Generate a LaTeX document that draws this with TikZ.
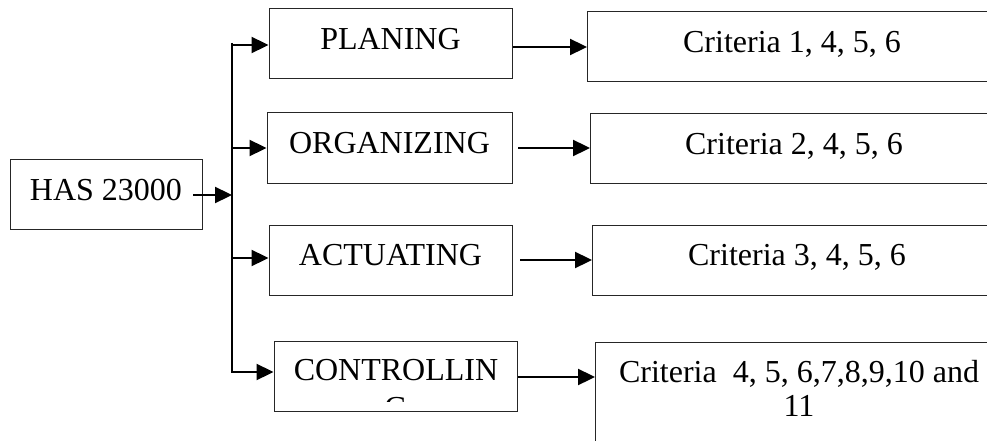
\documentclass[tikz,border=0pt]{standalone}
\usepackage{fontspec}
\setmainfont{Liberation Serif}
\usetikzlibrary{arrows.meta,calc}
\begin{document}
\begin{tikzpicture}[x=1pt,y=-1pt,
  box/.style={draw=black!85,line width=1pt,inner sep=0pt,text height=22pt,text depth=11pt,minimum height=70pt,font=\fontsize{32}{38}\selectfont},
  rbox/.style={draw=black!85,line width=1pt,inner sep=0pt,minimum width=520pt,anchor=north west},
  txt/.style={inner sep=0pt,align=center,font=\fontsize{32}{34}\selectfont},
  arr/.style={line width=2.3pt,-{Triangle[length=17pt,width=16pt]}},
  bus/.style={line width=1.6pt}]
\useasboundingbox (0,0) rectangle (987,441);
% boxes
\node[box,minimum width=192pt] (has) at (106,194.5) {HAS 23000};
\node[box,minimum width=243pt] (pl) at (390.5,44) {PLANING};
\node[box,minimum width=245pt] (org) at (389.5,148) {ORGANIZING};
\node[box,minimum width=243pt] (act) at (390.5,260) {ACTUATING};
\node[draw=black!85,line width=1pt,inner sep=0pt,minimum width=243pt,minimum height=70pt] (ctl) at (395.5,376) {};
\begin{scope}
  \clip (ctl.north west) rectangle ($(ctl.east)+(0,25)$);
  \node[txt,font=\fontsize{32}{38}\selectfont] (ctlt) at (396,389) {CONTROLLIN\\G};
\end{scope}
\node[rbox,minimum height=70pt] (c1) at (587,11) {};
\node[rbox,minimum height=70pt] (c2) at (590,113) {};
\node[rbox,minimum height=70pt] (c3) at (592,225) {};
\node[rbox,minimum height=140pt] (c4) at (595,342) {};
\node[txt,anchor=base] (c1t) at (792,53) {Criteria 1, 4, 5, 6};
\node[txt,anchor=base] (c2t) at (794,154) {Criteria 2, 4, 5, 6};
\node[txt,anchor=base] (c3t) at (797,265.5) {Criteria 3, 4, 5, 6};
\node[txt] (c4t) at (799,388) {Criteria\ \ 4, 5, 6,7,8,9,10 and\\11};
% connectors
\coordinate (hs) at (193,195);
\coordinate (j) at (232,195);
\coordinate (b1) at (232,45);
\coordinate (b2) at (232,148);
\coordinate (b3) at (232,258);
\coordinate (b4) at (232,372);
\draw[arr] (hs) -- (j);
\draw[bus] ($(b1)+(0,-2)$) -- ($(b4)+(0,1)$);
\draw[arr] (b1) -- (b1 -| pl.west);
\draw[arr] (b2) -- (b2 -| org.west);
\draw[arr] (b3) -- (b3 -| act.west);
\draw[arr] (b4) -- (b4 -| ctl.west);
\coordinate (r1) at (513,47);
\coordinate (r2) at (518,148);
\coordinate (r3) at (520,260);
\coordinate (r4) at (518,377);
\draw[arr] (r1) -- (r1 -| c1.west);
\draw[arr] (r2) -- (r2 -| c2.west);
\draw[arr] (r3) -- (r3 -| c3.west);
\draw[arr] (r4) -- (r4 -| c4.west);
\end{tikzpicture}
\end{document}
